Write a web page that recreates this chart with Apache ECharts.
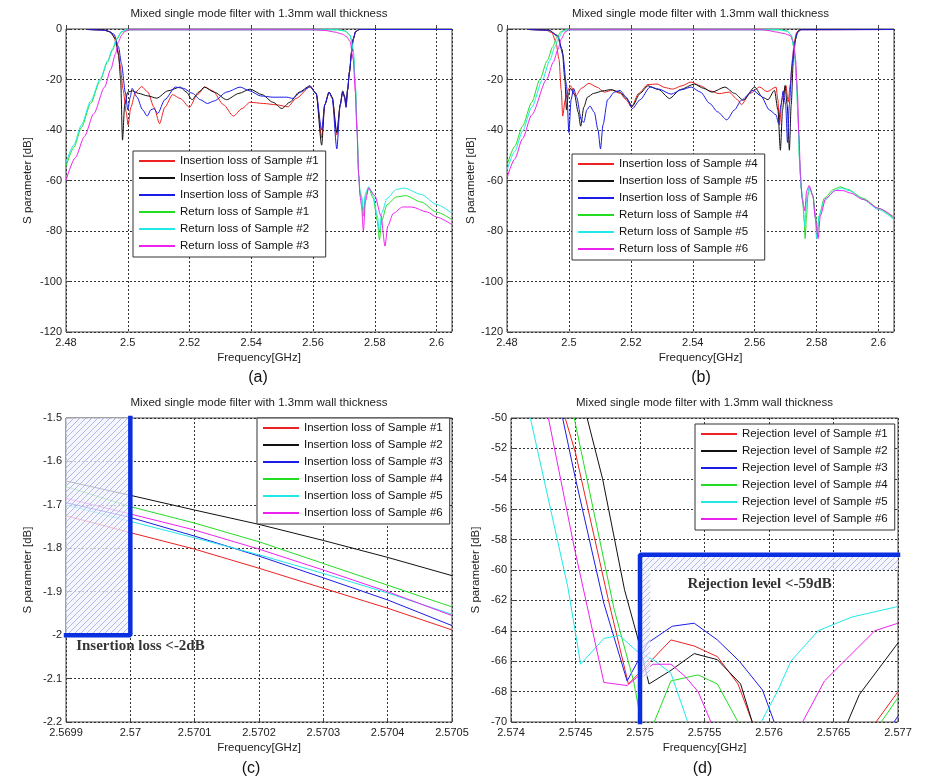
<!DOCTYPE html>
<html><head><meta charset="utf-8">
<script src="https://cdn.jsdelivr.net/npm/echarts@6/dist/echarts.min.js"></script>
<style>html,body{margin:0;padding:0;background:#fff}#c{width:945px;height:782px}</style>
</head><body><div id="c"></div>
<script>
// ---------------- DATA ----------------
const titleText = 'Mixed single mode filter with 1.3mm wall thickness';
const panelLabels = ['(a)', '(b)', '(c)', '(d)'];
const xName = 'Frequency[GHz]';
const yName = 'S parameter [dB]';

// axis ranges [min, max, interval]
const xRangeAB = [2.48, 2.605, 0.02];
const yRangeAB = [-120, 0, 20];
const xRangeC = [2.5699, 2.5705, 0.0001];
const yRangeC = [-2.2, -1.5, 0.1];
const xRangeD = [2.574, 2.577, 0.0005];
const yRangeD = [-70, -50, 2];

// Panel (a)
const aIL1 = [[2.487,-0.2],[2.492,-0.4],[2.494,-1],[2.4955,-3],[2.4965,-7],[2.4975,-14],[2.4985,-24],[2.4995,-33],[2.5001,-38],[2.501,-31],[2.5025,-25],[2.5045,-22.8],[2.5065,-25],[2.5085,-31],[2.5103,-37.5],[2.512,-31],[2.5145,-26],[2.517,-27.5],[2.52,-31],[2.5225,-26],[2.525,-23],[2.5275,-24.5],[2.531,-30],[2.5342,-34.5],[2.537,-31.5],[2.5396,-29],[2.544,-29.5],[2.548,-30],[2.5519,-30.8],[2.5545,-27.5],[2.559,-23],[2.561,-25.5],[2.5628,-43],[2.5638,-30],[2.5652,-25],[2.5662,-27],[2.5677,-42],[2.5688,-30],[2.5696,-25],[2.5702,-27],[2.5707,-31],[2.5712,-24],[2.5718,-17],[2.5725,-9],[2.573,-4],[2.5738,-1],[2.575,-0.2],[2.605,-0.2]];
const aIL2 = [[2.487,-0.2],[2.492,-0.3],[2.4945,-1.2],[2.496,-4],[2.497,-10],[2.4977,-20],[2.4983,-44],[2.499,-30],[2.5,-25],[2.5015,-24.5],[2.5035,-25.5],[2.5065,-26.5],[2.5094,-27.4],[2.513,-24.5],[2.517,-23],[2.519,-25],[2.5208,-28],[2.523,-25],[2.5248,-23],[2.528,-25],[2.532,-28],[2.536,-25.5],[2.5396,-23.8],[2.5435,-26],[2.547,-29],[2.5499,-31.5],[2.5525,-29],[2.5555,-25],[2.559,-22.5],[2.561,-25.5],[2.5628,-46],[2.5638,-30],[2.5652,-25],[2.5662,-27],[2.5677,-41],[2.5688,-30],[2.5696,-24.5],[2.5702,-26.5],[2.5707,-30],[2.5712,-24],[2.5718,-17],[2.5725,-9],[2.573,-4],[2.5738,-1],[2.575,-0.2],[2.605,-0.2]];
const aIL3 = [[2.487,-0.2],[2.493,-0.5],[2.4955,-2],[2.497,-7],[2.498,-14],[2.4992,-25],[2.5,-32],[2.5008,-27],[2.5014,-23.5],[2.503,-27],[2.5048,-32],[2.5063,-34.5],[2.5075,-32],[2.5085,-31.5],[2.5097,-33.5],[2.512,-28],[2.5154,-23],[2.518,-23.5],[2.521,-25.5],[2.5235,-28],[2.5258,-29.5],[2.528,-28.5],[2.532,-25],[2.5364,-23],[2.5395,-24.5],[2.543,-26.5],[2.547,-27],[2.5515,-27],[2.5535,-27.5],[2.556,-25],[2.559,-22.8],[2.561,-25.5],[2.5628,-40],[2.5638,-30],[2.5652,-25],[2.5662,-27.5],[2.5677,-47.5],[2.5688,-30],[2.5696,-25],[2.5702,-27],[2.5707,-31],[2.5712,-24],[2.5718,-17],[2.5725,-9],[2.573,-4],[2.5738,-1],[2.575,-0.2],[2.605,-0.2]];
const aRL1 = [[2.48,-54.5],[2.4825,-47],[2.485,-39],[2.488,-29.5],[2.491,-20.5],[2.4935,-13],[2.495,-8.5],[2.4965,-4],[2.498,-1.2],[2.4995,-0.4],[2.502,-0.3],[2.568,-0.3],[2.5705,-0.8],[2.572,-2.5],[2.573,-8],[2.5737,-22],[2.5742,-38],[2.5748,-58],[2.5752,-65],[2.5757,-67],[2.5763,-74],[2.577,-66],[2.578,-63],[2.5795,-67],[2.5808,-76],[2.5815,-83.5],[2.5822,-76],[2.584,-69.5],[2.587,-66.5],[2.59,-66],[2.595,-68.5],[2.6,-72.5],[2.605,-75.5]];
const aRL2 = [[2.48,-53],[2.4825,-46],[2.485,-38],[2.488,-28.5],[2.4912,-19.5],[2.4935,-12.5],[2.495,-8],[2.4965,-3.5],[2.498,-1],[2.4995,-0.3],[2.568,-0.3],[2.5705,-0.8],[2.572,-2.5],[2.573,-8],[2.5737,-22],[2.5742,-38],[2.5748,-58],[2.5752,-64],[2.5757,-66],[2.5763,-72],[2.577,-65],[2.578,-62.5],[2.5795,-66],[2.5808,-74],[2.5815,-80],[2.5822,-73],[2.584,-67],[2.587,-63.5],[2.5895,-63],[2.595,-65.5],[2.6,-69.5],[2.605,-73]];
const aRL3 = [[2.48,-60],[2.483,-51],[2.486,-42.5],[2.489,-33.5],[2.4925,-23],[2.4945,-16],[2.496,-10],[2.497,-5],[2.498,-2.5],[2.499,-1],[2.5005,-0.3],[2.56,-0.3],[2.564,-0.6],[2.567,-1.2],[2.5695,-2],[2.571,-3.2],[2.572,-5],[2.573,-12],[2.5737,-25],[2.5742,-40],[2.5748,-58],[2.5752,-66],[2.5757,-70],[2.5763,-80],[2.577,-68],[2.578,-63],[2.58,-66],[2.582,-74],[2.5833,-86],[2.5842,-78],[2.586,-73],[2.589,-70.5],[2.592,-70.5],[2.597,-72.5],[2.6,-74.5],[2.605,-77.5]];

// Panel (b)
const bIL4 = [[2.487,-0.2],[2.4925,-0.4],[2.4945,-1.5],[2.4958,-5],[2.4968,-12],[2.4975,-24],[2.498,-34.5],[2.4988,-28],[2.5,-23.5],[2.5005,-22.5],[2.5022,-26.5],[2.504,-23.5],[2.5065,-21.5],[2.509,-23],[2.5115,-25],[2.514,-24.2],[2.5165,-25.5],[2.5185,-28],[2.5202,-31],[2.5225,-25.5],[2.5255,-22],[2.5285,-21.8],[2.531,-23.2],[2.5335,-23.8],[2.5365,-22.5],[2.5394,-21],[2.5425,-22.5],[2.5455,-24.5],[2.5485,-25.6],[2.5517,-25],[2.5545,-28],[2.5557,-30],[2.5585,-25.5],[2.5616,-23],[2.564,-24.8],[2.5669,-23],[2.5675,-28],[2.568,-38],[2.5688,-28],[2.5701,-22.4],[2.5708,-29],[2.5715,-22],[2.5722,-12],[2.5728,-5],[2.5735,-1.5],[2.5745,-0.3],[2.605,-0.2]];
const bIL5 = [[2.487,-0.2],[2.4935,-0.4],[2.4962,-2.5],[2.4978,-8],[2.4987,-20],[2.4992,-32],[2.4998,-26],[2.5005,-23.5],[2.5018,-26],[2.503,-33],[2.5038,-38.5],[2.5048,-31],[2.506,-27],[2.508,-25.5],[2.511,-24.5],[2.5135,-24],[2.5165,-25],[2.5185,-27.5],[2.5205,-30.5],[2.523,-25.5],[2.5255,-22.5],[2.529,-24],[2.5325,-27.5],[2.536,-24],[2.5405,-21.8],[2.5435,-23.5],[2.5462,-25],[2.5504,-23],[2.5535,-25.5],[2.5563,-28.2],[2.56,-23],[2.5625,-27],[2.5643,-28],[2.5664,-24.3],[2.5675,-32],[2.5683,-48],[2.569,-32],[2.5698,-22.4],[2.5705,-30],[2.5712,-48],[2.5718,-30],[2.5725,-12],[2.5732,-4],[2.574,-0.8],[2.575,-0.2],[2.605,-0.2]];
const bIL6 = [[2.487,-0.2],[2.4935,-0.5],[2.4965,-3],[2.498,-10],[2.4992,-22],[2.5,-41],[2.5007,-28],[2.5015,-23.5],[2.5025,-27],[2.504,-36],[2.5048,-37],[2.5058,-32],[2.5068,-30.5],[2.5082,-33],[2.5094,-40],[2.5102,-47.5],[2.511,-38],[2.5125,-28],[2.5147,-25],[2.5165,-24.3],[2.5185,-27],[2.5205,-31.5],[2.523,-28],[2.5262,-23],[2.529,-23.8],[2.533,-25.8],[2.5365,-24],[2.5395,-23],[2.5425,-25],[2.5455,-29.5],[2.548,-32.8],[2.551,-36],[2.5535,-32],[2.5557,-28.2],[2.5595,-24.3],[2.562,-26.5],[2.5648,-32.1],[2.5669,-34],[2.5677,-37.4],[2.5685,-30],[2.5692,-24.5],[2.57,-30],[2.5706,-45],[2.5712,-30],[2.572,-15],[2.5728,-6],[2.5737,-1.5],[2.575,-0.3],[2.605,-0.2]];
const bRL4 = [[2.48,-54],[2.4825,-46.5],[2.485,-38.5],[2.488,-29],[2.4906,-20],[2.493,-12.5],[2.4948,-7],[2.496,-3.5],[2.4975,-1],[2.499,-0.3],[2.568,-0.3],[2.5705,-0.8],[2.5718,-2.5],[2.5728,-8],[2.5735,-20],[2.574,-35],[2.5745,-52],[2.575,-63],[2.5755,-68],[2.576,-76],[2.5763,-83],[2.5767,-75],[2.5772,-66],[2.5778,-63],[2.5788,-66],[2.5797,-74],[2.5802,-82],[2.5808,-74],[2.5825,-67],[2.5855,-63.5],[2.5876,-62.5],[2.59,-63.5],[2.595,-67],[2.6,-71],[2.605,-75]];
const bRL5 = [[2.48,-56],[2.4825,-48.5],[2.485,-40.5],[2.488,-31],[2.4915,-20],[2.4938,-12.5],[2.4955,-7],[2.4967,-3.5],[2.498,-1],[2.4995,-0.3],[2.568,-0.3],[2.5705,-0.8],[2.5718,-2.5],[2.5728,-8],[2.5735,-20],[2.574,-35],[2.5745,-52],[2.575,-63],[2.5755,-67],[2.5762,-78],[2.5768,-67],[2.5776,-62.5],[2.5788,-66],[2.5795,-74],[2.58,-83],[2.5808,-74],[2.5825,-68],[2.5858,-64],[2.588,-63],[2.5905,-64],[2.595,-67.5],[2.6,-71.5],[2.605,-75.5]];
const bRL6 = [[2.48,-59],[2.4825,-51.5],[2.485,-43.5],[2.488,-34],[2.4928,-20],[2.495,-13],[2.4965,-8],[2.4975,-4],[2.4988,-1.2],[2.5,-0.3],[2.5625,-0.3],[2.5643,-0.6],[2.567,-1.2],[2.5695,-1.8],[2.5715,-2.6],[2.5725,-5],[2.5732,-12],[2.5738,-25],[2.5743,-42],[2.5748,-58],[2.5753,-67],[2.5758,-70],[2.5762,-72],[2.5768,-64],[2.5776,-62],[2.5788,-66],[2.5796,-75],[2.5805,-83],[2.5812,-74],[2.583,-67],[2.586,-64],[2.5885,-64],[2.591,-65],[2.595,-67.5],[2.6,-71],[2.605,-74.5]];

// Panel (c)
const cFreq = [2.5699, 2.57, 2.5701, 2.5702, 2.5703, 2.5704, 2.5705];
const cIL1 = [-1.725, -1.764, -1.802, -1.846, -1.892, -1.938, -1.988];
const cIL2 = [-1.645, -1.678, -1.712, -1.745, -1.782, -1.821, -1.863];
const cIL3 = [-1.695, -1.729, -1.772, -1.818, -1.868, -1.919, -1.978];
const cIL4 = [-1.658, -1.704, -1.742, -1.785, -1.835, -1.885, -1.935];
const cIL5 = [-1.700, -1.738, -1.776, -1.815, -1.858, -1.903, -1.952];
const cIL6 = [-1.685, -1.721, -1.758, -1.802, -1.850, -1.900, -1.955];
const cLimit = [[2.57, -1.5], [2.57, -2], [2.5699, -2]];
const cHatch = [[[2.5699, -1.5], [2.57, -2]]];
const cNote = ['Insertion loss <-2dB', 2.569915, -2.025];

// Panel (d)  (null = curve leaves the plotted range)
const dRJ1 = [[2.57442,-50],[2.5745,-52.3],[2.57475,-61.8],[2.57491,-67.5],[2.57506,-66.2],[2.57524,-64.6],[2.57542,-65],[2.5756,-65.7],[2.57576,-67.5],[2.57587,-70],null,[2.57683,-70],[2.577,-68]];
const dRJ2 = [[2.57459,-50],[2.57471,-54],[2.57488,-61.3],[2.57498,-64.4],[2.57507,-67.5],[2.57524,-66.6],[2.57542,-65.5],[2.5756,-65.9],[2.57578,-67.5],[2.57587,-70],null,[2.57661,-70],[2.5767,-68.2],[2.577,-64.8]];
const dRJ3 = [[2.5744,-50],[2.5745,-54],[2.57472,-62.2],[2.5749,-67.3],[2.57506,-64.8],[2.57525,-63.7],[2.57542,-63.5],[2.5756,-64.6],[2.57577,-66],[2.57595,-67.9],[2.57604,-70],null,[2.57697,-70],[2.577,-69.6]];
const dRJ4 = [[2.57449,-50],[2.57466,-56.9],[2.5748,-62.6],[2.57495,-67.3],[2.57501,-70],null,[2.57511,-70],[2.57524,-67.3],[2.57545,-66.9],[2.5756,-67.5],[2.57576,-70],null,[2.57687,-70],[2.577,-68.4]];
const dRJ5 = [[2.57415,-50],[2.57444,-61.1],[2.57454,-66.2],[2.57472,-64.5],[2.57484,-64.3],[2.57497,-65.3],[2.57512,-66],[2.57524,-66.8],[2.57537,-70],null,[2.57594,-70],[2.57607,-67.9],[2.57617,-66],[2.57638,-64],[2.57664,-63.1],[2.577,-62.4]];
const dRJ6 = [[2.57429,-50],[2.57449,-58.5],[2.57472,-67.4],[2.5749,-67.6],[2.5751,-66.2],[2.57524,-66.2],[2.57535,-67],[2.57545,-68],[2.57555,-70],null,[2.57626,-70],[2.57643,-67.3],[2.57682,-64],[2.577,-63.5]];
const dLimit = [[2.575, -70], [2.575, -59], [2.577, -59]];
const dHatch = [[[2.575, -59], [2.577, -60]], [[2.575, -60], [2.57508, -67]]];
const dNote = ['Rejection level <-59dB', 2.575364, -60.92];

// legend names
const aNames = ['Insertion loss of Sample #1','Insertion loss of Sample #2','Insertion loss of Sample #3','Return loss of Sample #1','Return loss of Sample #2','Return loss of Sample #3'];
const bNames = ['Insertion loss of Sample #4','Insertion loss of Sample #5','Insertion loss of Sample #6','Return loss of Sample #4','Return loss of Sample #5','Return loss of Sample #6'];
const cNames = ['Insertion loss of Sample #1','Insertion loss of Sample #2','Insertion loss of Sample #3','Insertion loss of Sample #4','Insertion loss of Sample #5','Insertion loss of Sample #6'];
const dNames = ['Rejection level of Sample #1','Rejection level of Sample #2','Rejection level of Sample #3','Rejection level of Sample #4','Rejection level of Sample #5','Rejection level of Sample #6'];

// ---------------- STYLE / LAYOUT ----------------
const COLORS = ['#ee2222', '#111111', '#1c1ce8', '#22dd22', '#22e8e8', '#ee22ee'];
const SANS = '"Liberation Sans", Arial, sans-serif';
const SERIF = '"Liberation Serif", "Times New Roman", serif';
const grids = [
  {left: 66, top: 29, width: 386, height: 303},
  {left: 507, top: 29, width: 387, height: 303},
  {left: 66, top: 418, width: 386, height: 304},
  {left: 511, top: 418, width: 387, height: 304}
];
const legendPos = [[133, 151], [572, 154], [257, 418], [695, 424]];
const yNameGap = [32, 30, 32, 29];

// hatch pattern
const hatch = document.createElement('canvas');
hatch.width = 6; hatch.height = 6;
(function () {
  const ctx = hatch.getContext('2d');
  ctx.fillStyle = 'rgba(242,243,253,0.75)';
  ctx.fillRect(0, 0, 6, 6);
  ctx.fillStyle = 'rgba(168,178,230,0.9)';
  for (let x = 0; x < 6; x++) for (let y = 0; y < 6; y++) if ((x + y) % 6 === 5) ctx.fillRect(x, y, 1, 1);
})();

function lineSeries(name, tag, data, color, gi, smooth) {
  return {
    type: 'line', name: name + '|' + tag, xAxisIndex: gi, yAxisIndex: gi,
    data: data.map(p => p ? p : ['-', '-']),
    symbol: 'none', showSymbol: false, clip: true, animation: false, connectNulls: false,
    smooth: smooth || false, smoothMonotone: 'x', color: color,
    lineStyle: {color: color, width: 1}, itemStyle: {color: color}, z: 2, silent: true
  };
}

const series = [];
[aIL1, aIL2, aIL3, aRL1, aRL2, aRL3].forEach((d, i) => series.push(lineSeries(aNames[i], 'a', d, COLORS[i], 0, 0.25)));
[bIL4, bIL5, bIL6, bRL4, bRL5, bRL6].forEach((d, i) => series.push(lineSeries(bNames[i], 'b', d, COLORS[i], 1, 0.25)));
[cIL1, cIL2, cIL3, cIL4, cIL5, cIL6].forEach((ys, i) => series.push(lineSeries(cNames[i], 'c', cFreq.map((f, k) => [f, ys[k]]), COLORS[i], 2)));
[dRJ1, dRJ2, dRJ3, dRJ4, dRJ5, dRJ6].forEach((d, i) => series.push(lineSeries(dNames[i], 'd', d, COLORS[i], 3)));

function hatchSeries(areas, gi) {
  return {
    type: 'line', name: 'hatch' + gi, xAxisIndex: gi, yAxisIndex: gi, data: [],
    symbol: 'none', silent: true, animation: false, z: 3,
    markArea: {silent: true, z: 3, itemStyle: {color: {image: hatch, repeat: 'repeat'}, borderWidth: 0},
      data: areas.map(r => [{coord: r[0]}, {coord: r[1]}])}
  };
}
function limitSeries(data, gi) {
  return {
    type: 'line', name: 'limit' + gi, xAxisIndex: gi, yAxisIndex: gi, data: data,
    symbol: 'none', silent: true, animation: false, clip: false, z: 4,
    lineStyle: {color: '#0a2fe0', width: 4.5, cap: 'square'}
  };
}
function noteSeries(note, gi) {
  return {
    type: 'scatter', name: 'note' + gi, xAxisIndex: gi, yAxisIndex: gi, data: [[note[1], note[2]]],
    symbolSize: 1, itemStyle: {color: 'rgba(0,0,0,0)'}, silent: true, animation: false, z: 5,
    label: {show: true, position: 'right', distance: 0, formatter: note[0],
      fontFamily: SERIF, fontWeight: 'bold', fontSize: 15, color: '#000'}
  };
}
series.push(hatchSeries(cHatch, 2), limitSeries(cLimit, 2), noteSeries(cNote, 2));
series.push(hatchSeries(dHatch, 3), limitSeries(dLimit, 3), noteSeries(dNote, 3));

function xAxis(r, gi, hideMax) {
  return {
    type: 'value', gridIndex: gi, min: r[0], max: r[1], interval: r[2],
    name: xName, nameLocation: 'middle', nameGap: 20,
    nameTextStyle: {fontFamily: SANS, fontSize: 11.5, color: '#222'},
    axisLine: {show: false},
    axisTick: {show: true, inside: true, length: 4, lineStyle: {color: '#444'}},
    axisLabel: {fontFamily: SANS, fontSize: 11, color: '#222', margin: 5, showMaxLabel: !hideMax, showMinLabel: true},
    splitLine: {show: true, lineStyle: {color: '#333', type: [2, 2], width: 1}}
  };
}
function yAxis(r, gi) {
  return {
    type: 'value', gridIndex: gi, min: r[0], max: r[1], interval: r[2],
    name: yName, nameLocation: 'middle', nameGap: yNameGap[gi], nameRotate: 90,
    nameTextStyle: {fontFamily: SANS, fontSize: 11.5, color: '#222'},
    axisLine: {show: false},
    axisTick: {show: true, inside: true, length: 4, lineStyle: {color: '#444'}},
    axisLabel: {fontFamily: SANS, fontSize: 11, color: '#222', margin: 4},
    splitLine: {show: true, lineStyle: {color: '#333', type: [2, 2], width: 1}}
  };
}

function legend(names, tag, pos) {
  return {
    orient: 'vertical', left: pos[0], top: pos[1], z: 10,
    data: names.map(n => n + '|' + tag),
    formatter: n => n.split('|')[0],
    icon: 'path://M0,0H36V2H0Z', symbolKeepAspect: true,
    itemWidth: 36, itemHeight: 14, itemGap: 3,
    padding: [3, 7, 4, 6], backgroundColor: '#fff', borderColor: '#333', borderWidth: 1,
    selectedMode: false,
    textStyle: {fontFamily: SANS, fontSize: 11.5, color: '#111', lineHeight: 14, padding: [0, 0, 0, 0]}
  };
}

const titleCenters = [[259, 8], [700.5, 8], [259, 397], [704.5, 397]];
const labelCenters = [[258, 370], [701, 370], [251, 761], [702.5, 761]];
const titles = [];
titleCenters.forEach(p => titles.push({text: titleText, left: p[0], top: p[1], textAlign: 'center', padding: 0,
  textStyle: {fontFamily: SANS, fontSize: 11.5, fontWeight: 'normal', color: '#222'}}));
labelCenters.forEach((p, i) => titles.push({text: panelLabels[i], left: p[0], top: p[1], textAlign: 'center', padding: 0,
  textStyle: {fontFamily: SANS, fontSize: 16, fontWeight: 'normal', color: '#111'}}));

const option = {
  animation: false,
  backgroundColor: '#fff',
  title: titles,
  grid: grids.map(g => Object.assign({show: true, borderColor: '#444', borderWidth: 1, backgroundColor: 'transparent'}, g)),
  xAxis: [xAxis(xRangeAB, 0, true), xAxis(xRangeAB, 1, true), xAxis(xRangeC, 2, false), xAxis(xRangeD, 3, false)],
  yAxis: [yAxis(yRangeAB, 0), yAxis(yRangeAB, 1), yAxis(yRangeC, 2), yAxis(yRangeD, 3)],
  legend: [legend(aNames, 'a', legendPos[0]), legend(bNames, 'b', legendPos[1]), legend(cNames, 'c', legendPos[2]), legend(dNames, 'd', legendPos[3])],
  series: series
};
const chart = echarts.init(document.getElementById('c'), null, {renderer: 'canvas'});
chart.setOption(option);
</script>
</body></html>
